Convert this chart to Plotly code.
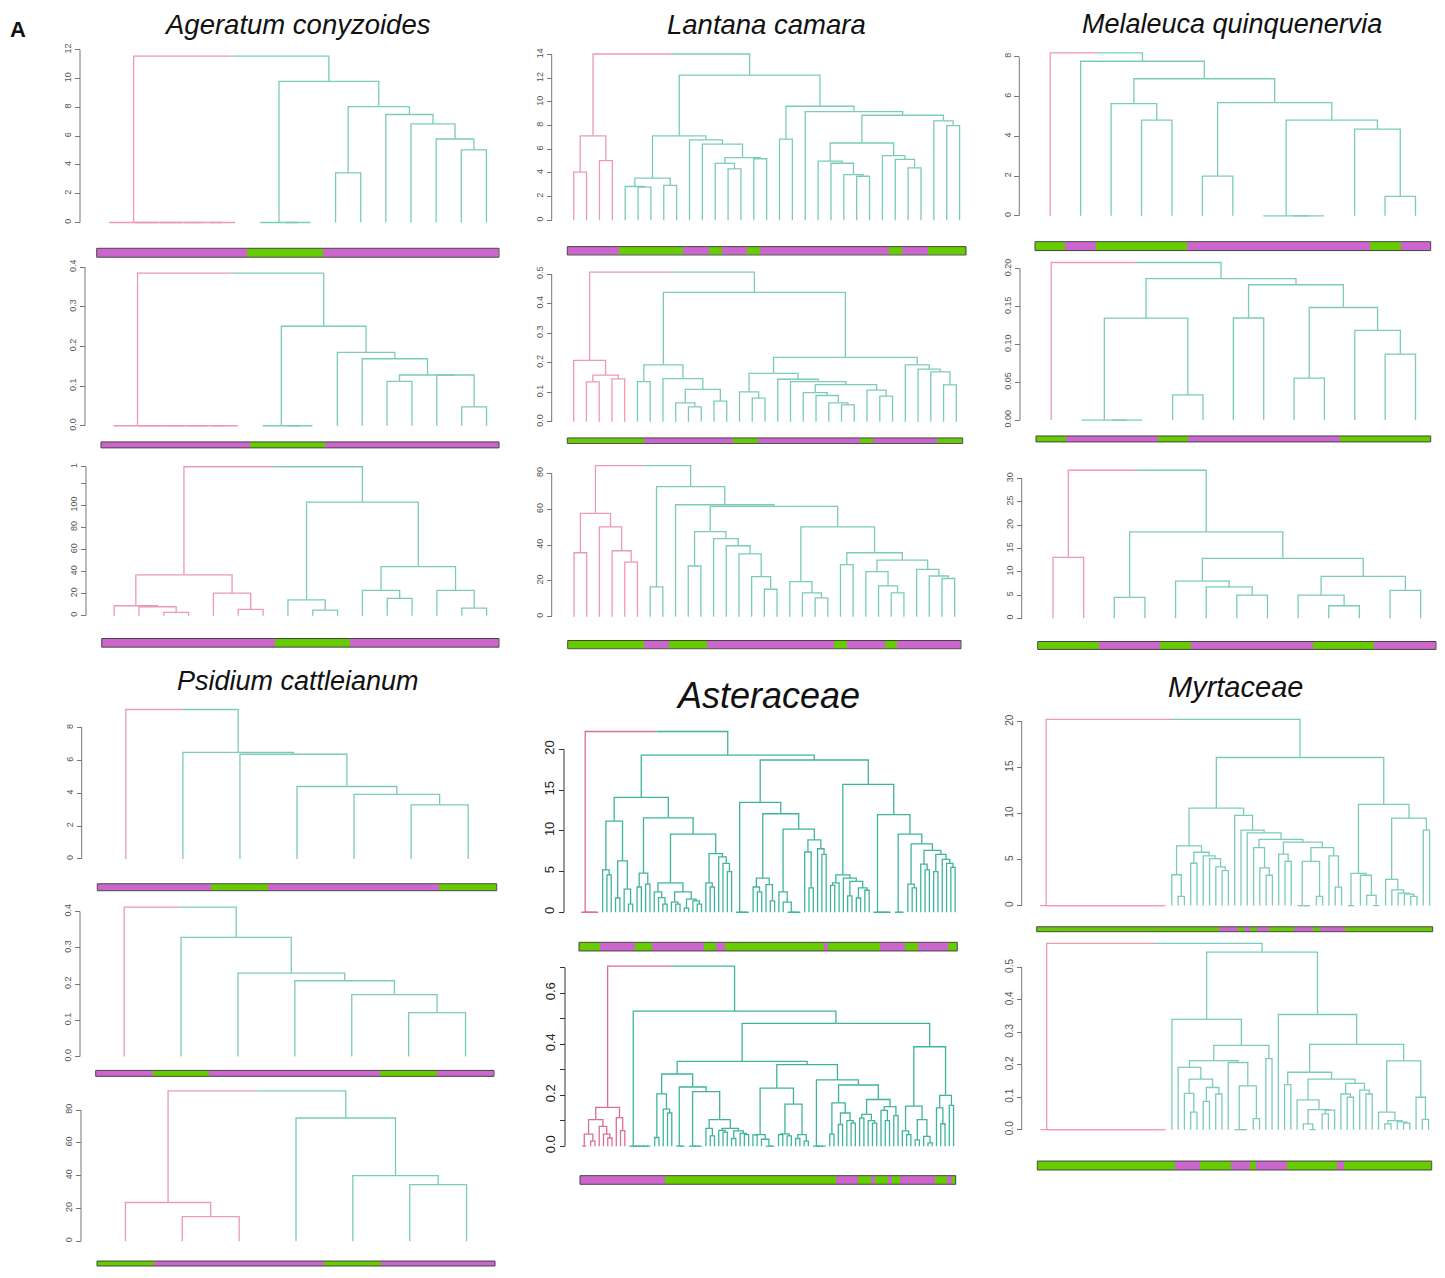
import re
import plotly.graph_objects as go

# page body has an 8px margin: figure is made 16px smaller and every pixel position shifted by 8
PAGE_W, PAGE_H = 1445, 1278
OFF = 8
W, H = PAGE_W - 2 * OFF, PAGE_H - 2 * OFF
FONT = "Liberation Sans, Arial, sans-serif"

# ---------------- DATA: dendrogram merge trees (Newick-like: L=leaf, Zn=n leaves merged at 0) ----------------
AC1 = "(Z6,((L,(L,L)0)0,((L,L)3.45,(L,(L,(L,(L,L)5.05)5.8)6.85)7.5)8.05)9.8)11.55"
AC2 = "(Z6,((L,(L,L)0)0,(L,(L,((L,L)0.112,(L,(L,L)0.0475)0.128)0.128)0.169)0.185)0.251)0.385"
AC3 = "(((L,(L,(L,L)3)8.1)9,(L,(L,L)5.7)20.4)37,((L,(L,L)5.1)14.4,((L,(L,L)15.6)23,(L,(L,L)6.9)23)44.5)103)135"

LC1_P = "((L,L)4.06,(L,L)5.04)7.14"
LC1_G1 = "(((L,(L,L)2.8)2.85,(L,L)2.95)3.56,(L,(L,((L,(L,L)4.34)4.8,(L,L)5.2)5.3)6.44)6.8)7.14"
LC1_GP = "(L,(L,(L,(L,L)3.72)3.86)4.82)4.99"
LC1_GQ = "(L,(L,(L,L)4.43)5.15)5.46"
LC1_G2 = f"((L,L)6.86,(L,(({LC1_GP},{LC1_GQ})6.53,(L,(L,L)8.0)8.4)8.88)9.19)9.64"
LC1 = f"({LC1_P},({LC1_G1},{LC1_G2})12.27)14.06"

LC2_P = "(L,((L,L)0.135,(L,L)0.145)0.158)0.208"
LC2_GA = "((L,L)0.136,(L,((L,(L,L)0.0506)0.064,(L,L)0.07)0.11)0.146)0.193"
LC2_X = "(L,(L,(L,(L,L)0.057)0.064)0.089)0.099"
LC2_Y = "(L,(L,L)0.0865)0.107"
LC2_GB1 = f"((L,(L,L)0.08)0.101,(L,(L,({LC2_X},{LC2_Y})0.126)0.136)0.144)0.164"
LC2_GB2 = "(L,(L,(L,(L,L)0.125)0.169)0.178)0.193"
LC2 = f"({LC2_P},({LC2_GA},({LC2_GB1},{LC2_GB2})0.218)0.438)0.507"

LC3_P = "((L,L)35.7,(L,(L,(L,L)30.5)36.8)50.1)57.7"
LC3_GC = "((L,L)28.3,(L,(L,(L,(L,(L,L)15.3)22.4)35.1)39.6)43.6)47.5"
LC3_D1 = "(L,(L,(L,L)13.3)17.2)25.1"
LC3_D2 = "(L,(L,(L,L)21.3)22.7)26.4"
LC3_GD = f"((L,(L,(L,L)10.5)13.3)19.6,((L,L)29,({LC3_D1},{LC3_D2})31.6)35.7)50.1"
LC3 = f"({LC3_P},((L,L)16.6,(L,({LC3_GC},{LC3_GD})61.6)62.5)72.6)84.3"

MQ1 = "(L,(L,((L,(L,L)4.81)5.64,((L,L)2.0,((L,(L,L)0)0,(L,(L,L)0.98)4.36)4.81)5.69)6.89)7.77)8.19"
MQ2 = "(L,(((L,(L,L)0)0,(L,L)0.0333)0.1348,((L,L)0.135,((L,L)0.0556,(L,(L,L)0.0871)0.1187)0.1489)0.179)0.187)0.2084"
MQ3 = "((L,L)13.1,((L,L)4.5,((L,(L,(L,L)5.0)6.75)8.0,((L,(L,L)2.7)5.0,(L,L)6.0)9.0)12.9)18.55)31.8"

PC1 = "(L,(L,(L,(L,(L,(L,L)3.3)3.94)4.42)6.39)6.5)9.12"
PC2 = "(L,(L,(L,(L,(L,(L,L)0.121)0.171)0.209)0.230)0.329)0.412"
PC3 = "((L,(L,L)15)23.6,(L,(L,(L,L)34.5)40)75.2)91.7"

# Asteraceae (top)
AS1_LL = "((L,(L,L)4.6)5.2,((L,L)1.75,(L,(L,L)1.0)2.85)6.3)11.2"
AS1_LRL = "((L,L)3.1,(L,L)3.45)4.8"
AS1_LRRL = "((L,(L,(L,L)1.0)1.8)2.5,((L,(L,L)1.0)1.25,((L,L)0.5,(L,(L,L)1.0)1.4)1.6)2.5)3.6"
AS1_LRRR = "((L,(L,L)3.1)3.6,(L,(L,(L,L)5.0)6.0)6.8)7.2"
AS1_LEFT = f"({AS1_LL},({AS1_LRL},({AS1_LRRL},{AS1_LRRR})9.6)11.6)14.1"
AS1_RLRL = "((L,(L,L)2.5)3.1,(L,(L,L)1.4)3.4)4.2"
AS1_RLRRL = "(L,(L,Z4)1.25)2.5"
AS1_RLRRR = "((L,(L,L)3.0)7.4,(L,(L,L)7.1)7.8)8.9"
AS1_RL = f"(Z4,({AS1_RLRL},({AS1_RLRRL},{AS1_RLRRR})10.2)12.1)13.5"
AS1_RRL = "(((L,L)3.3,L)3.6,(L,((L,L)2.0,((L,L)1.75,(L,L)2.7)3.0)3.8)4.2)4.6"
AS1_RRRR = "(Z3,((L,(L,L)3.0)3.45,((L,(L,L)5.2)5.9,((L,L)5.0,(L,(L,(L,L)5.5)6.0)6.5)7.1)7.6)8.4)9.6"
AS1_RR = f"({AS1_RRL},(Z5,{AS1_RRRR})12.0)15.7"
AS1 = f"(Z5,({AS1_LEFT},({AS1_RL},{AS1_RR})18.7)19.3)22.2"

# Asteraceae (bottom)
AS2_PINK = "((((L,L)0,(L,L)0.02)0.047,(L,(L,(L,L)0.032)0.047)0.078)0.104,(L,(L,L)0.061)0.112)0.152"
AS2_A1 = "((L,L)0.034,(L,(L,L)0.13)0.145)0.205"
AS2_A2C = "((L,(L,L)0.04)0.07,((L,(L,L)0.055)0.062,((L,L)0.03,(L,(L,L)0.045)0.05)0.06)0.07)0.104"
AS2_A = f"({AS2_A1},(Z3,(Z4,{AS2_A2C})0.214)0.232)0.283"
AS2_B1A = "((L,L)0.044,(L,(L,(L,L)0)0)0.027)0.045"
AS2_B1B = "(((L,L)0.045,(L,L)0.04)0.048,((L,L)0.03,(L,L)0.02)0.045)0.165"
AS2_B2B1 = "((L,L)0.047,((L,L)0.085,(L,(L,L)0.09)0.1)0.13)0.17"
AS2_B2B2 = "(((L,L)0.11,(L,(L,L)0.09)0.1)0.125,((L,(L,L)0.1)0.14,(L,L)0.12)0.155)0.183"
AS2_B = f"(({AS2_B1A},{AS2_B1B})0.228,(Z4,({AS2_B2B1},{AS2_B2B2})0.24)0.26)0.32"
AS2_GRRA = "((L,(L,L)0.045)0.06,((L,L)0.025,(L,(L,L)0.013)0.038)0.104)0.157"
AS2_GRRB = "((L,(L,L)0.088)0.15,(L,L)0.16)0.199"
AS2 = f"({AS2_PINK},(Z6,(({AS2_A},{AS2_B})0.333,({AS2_GRRA},{AS2_GRRB})0.39)0.482)0.53)0.706"

# Myrtaceae (top)
MY1_A = "((L,(L,L)1.0)3.35,((L,L)4.6,(L,(L,(L,(L,L)3.8)4.2)5.1)5.4)5.8)6.5"
MY1_B1 = "(L,(L,(L,L)3.3)4.1)6.3"
MY1_B2 = "((L,(L,L)4.8)5.6,(((L,(L,L)0)0,(L,L)1.0)4.8,(L,(L,L)2.0)5.4)6.3)6.9"
MY1_B = f"(L,(L,(L,({MY1_B1},{MY1_B2})7.2)7.9)8.2)9.8"
MY1_R = "(((L,L)0,(L,(L,(L,L)0)1.1)3.3)3.5,((L,(L,(L,(L,(L,L)1.0)1.25)1.35)1.7)2.85,(L,L)8.2)9.5)11.0"
MY1 = f"(Z21,(({MY1_A},{MY1_B})10.6,{MY1_R})16.1)20.25"

# Myrtaceae (bottom)
MY2_LRLL = "(L,((L,(L,L)0.054)0.112,((L,L)0.087,(L,L)0.11)0.13)0.156)0.192"
MY2_LRLR = "(L,((L,(L,L)0)0,(L,L)0.034)0.135)0.207"
MY2_LG = f"(L,(({MY2_LRLL},{MY2_LRLR})0.213,(L,L)0.219)0.26)0.34"
MY2_A = "(L,((L,(L,L)0)0.018,((L,L)0.049,L)0.06)0.062)0.092"
MY2_BM = "((L,(L,L)0.1)0.11,(L,(L,L)0.11)0.122)0.143"
MY2_RRL = f"((L,L)0.139,({MY2_A},{MY2_BM})0.156)0.177"
MY2_RRRL = "(L,((L,L)0.018,(L,(L,L)0.02)0.024)0.028)0.054"
MY2_RRRR = "(L,(L,L)0.032)0.1"
MY2_RG = f"(L,({MY2_RRL},({MY2_RRRL},{MY2_RRRR})0.212)0.263)0.355"
MY2 = f"(Z21,({MY2_LG},{MY2_RG})0.547)0.574"

# ---------------- DATA: group colour bars (run lengths, M=magenta group, G=green group) ----------------
BAR_AC1 = [("M", 6), ("G", 3), ("M", 7)]
BAR_AC2 = [("M", 6), ("G", 3), ("M", 7)]
BAR_AC3 = [("M", 7), ("G", 3), ("M", 6)]
BAR_LC1 = [("M", 4), ("G", 5), ("M", 2), ("G", 1), ("M", 2), ("G", 1), ("M", 10), ("G", 1), ("M", 2), ("G", 3)]
BAR_LC2 = [("G", 6), ("M", 7), ("G", 2), ("M", 8), ("G", 1), ("M", 5), ("G", 2)]
BAR_LC3 = [("G", 6), ("M", 2), ("G", 3), ("M", 10), ("G", 1), ("M", 3), ("G", 1), ("M", 5)]
BAR_MQ1 = [("G", 1), ("M", 1), ("G", 3), ("M", 6), ("G", 1), ("M", 1)]
BAR_MQ2 = [("G", 1), ("M", 3), ("G", 1), ("M", 5), ("G", 3)]
BAR_MQ3 = [("G", 2), ("M", 2), ("G", 1), ("M", 4), ("G", 2), ("M", 2)]
BAR_PC1 = [("M", 2), ("G", 1), ("M", 3), ("G", 1)]
BAR_PC2 = [("M", 1), ("G", 1), ("M", 3), ("G", 1), ("M", 1)]
BAR_PC3 = [("G", 1), ("M", 3), ("G", 1), ("M", 2)]
BAR_AS1 = [("G", 5), ("M", 8), ("G", 4), ("M", 12), ("G", 3), ("M", 2), ("G", 23), ("M", 1),
           ("G", 12), ("M", 6), ("G", 3), ("M", 7), ("G", 2)]
BAR_AS2 = [("M", 20), ("G", 40), ("M", 5), ("G", 3), ("M", 1), ("G", 3), ("M", 1), ("G", 2),
           ("M", 8), ("G", 3), ("M", 1), ("G", 1)]
BAR_MY1 = [("G", 29), ("M", 3), ("G", 1), ("M", 1), ("G", 1), ("M", 2), ("G", 4), ("M", 3),
           ("G", 1), ("M", 4), ("G", 14)]
BAR_MY2 = [("G", 22), ("M", 4), ("G", 5), ("M", 3), ("G", 1), ("M", 5), ("G", 8), ("M", 1), ("G", 14)]

# ---------------- DATA: axis ticks ----------------
TICKS_AC1 = [0, 2, 4, 6, 8, 10, 12]
TICKS_AC2 = [0, 0.1, 0.2, 0.3, 0.4]
TICKS_AC3 = [0, 20, 40, 60, 80, 100, 120, 135]
LABELS_AC3 = ["0", "20", "40", "60", "80", "100", "", "1"]
TICKS_LC1 = [0, 2, 4, 6, 8, 10, 12, 14]
TICKS_LC2 = [0, 0.1, 0.2, 0.3, 0.4, 0.5]
TICKS_LC3 = [0, 20, 40, 60, 80]
TICKS_MQ1 = [0, 2, 4, 6, 8]
TICKS_MQ2 = [0, 0.05, 0.10, 0.15, 0.20]
LABELS_MQ2 = ["0.00", "0.05", "0.10", "0.15", "0.20"]
TICKS_MQ3 = [0, 5, 10, 15, 20, 25, 30]
TICKS_PC1 = [0, 2, 4, 6, 8]
TICKS_PC2 = [0, 0.1, 0.2, 0.3, 0.4]
TICKS_PC3 = [0, 20, 40, 60, 80]
TICKS_AS1 = [0, 5, 10, 15, 20]
TICKS_AS2 = [0, 0.1, 0.2, 0.3, 0.4, 0.5, 0.6, 0.7]
LABELS_AS2 = ["0.0", "", "0.2", "", "0.4", "", "0.6", ""]
TICKS_MY1 = [0, 5, 10, 15, 20]
TICKS_MY2 = [0, 0.1, 0.2, 0.3, 0.4, 0.5]

TITLES = ["Ageratum conyzoides", "Lantana camara", "Melaleuca quinquenervia",
          "Psidium cattleianum", "Asteraceae", "Myrtaceae"]


def fmt1(v):
    return f"{v:.1f}"


# ---------------- layout table (page-pixel geometry and style) ----------------
# tree, bar, ticks, ticklabels, axis_x, y0px, yTpx(top tick), bar_x0, bar_x1, bar_y0, bar_y1, style
PANELS = [
    (AC1, BAR_AC1, TICKS_AC1, None, 80, 219, 45, 96.7, 499, 245, 254, "s"),
    (AC2, BAR_AC2, TICKS_AC2, [fmt1(t) for t in TICKS_AC2], 85, 423.7, 264, 101, 499, 440, 446, "s"),
    (AC3, BAR_AC3, TICKS_AC3, LABELS_AC3, 86, 615, 465, 101.7, 499, 638, 646.7, "s"),
    (LC1, BAR_LC1, TICKS_LC1, None, 551.7, 216.7, 50, 567.3, 966, 243.3, 251.7, "s"),
    (LC2, BAR_LC2, TICKS_LC2, [fmt1(t) for t in TICKS_LC2], 551.7, 419.7, 271, 567.3, 962.7, 436, 441.5, "s"),
    (LC3, BAR_LC3, TICKS_LC3, None, 551.7, 616, 471.7, 567.7, 961, 640, 648.3, "s"),
    (MQ1, BAR_MQ1, TICKS_MQ1, None, 1019.3, 212.3, 52, 1035, 1430.7, 238.3, 247.3, "s"),
    (MQ2, BAR_MQ2, TICKS_MQ2, LABELS_MQ2, 1020, 418, 265.7, 1036, 1430.7, 434, 440, "s"),
    (MQ3, BAR_MQ3, TICKS_MQ3, None, 1021.7, 617.7, 477, 1037.7, 1436, 641, 649, "s"),
    (PC1, BAR_PC1, TICKS_PC1, None, 81.7, 860, 728, 97.3, 496.7, 885, 892, "s"),
    (PC2, BAR_PC2, TICKS_PC2, [fmt1(t) for t in TICKS_PC2], 80, 1059, 913, 95.7, 494, 1073, 1079, "s"),
    (PC3, BAR_PC3, TICKS_PC3, None, 81, 1245, 1113, 97, 495, 1265, 1270, "s"),
    (AS1, BAR_AS1, TICKS_AS1, None, 564, 913.7, 749.7, 579, 957.3, 944, 952.7, "b"),
    (AS2, BAR_AS2, TICKS_AS2, LABELS_AS2, 565, 1149.3, 969.6, 580, 955.7, 1179, 1187.7, "b"),
    (MY1, BAR_MY1, TICKS_MY1, None, 1021.7, 907, 721.7, 1036.7, 1432.7, 928.3, 933.3, "m"),
    (MY2, BAR_MY2, TICKS_MY2, [fmt1(t) for t in TICKS_MY2], 1021.7, 1132.7, 969.3, 1037.3, 1431.7, 1164.3, 1173.3, "m"),
]

STYLES = {
    "s": dict(pink="#EA9AB1", teal="#7BCBBA", fs=9, fc="#555555", lw=1.3, axc="#777777"),
    "m": dict(pink="#EA9AB1", teal="#7BCBBA", fs=10, fc="#555555", lw=1.3, axc="#777777"),
    "b": dict(pink="#DB6F8F", teal="#3FB49C", fs=13, fc="#222222", lw=1.3, axc="#333333"),
}
MAG, GRN = "#CC66CC", "#66CC00"

# (centre x, y, font size, anchor)
TITLE_POS = [(297.5, 3, 27.5, "top"), (766, 3, 27.5, "top"), (1232, 3, 27, "top"),
             (297.5, 681, 27, "middle"), (768, 695, 36, "middle"), (1235, 687, 29, "middle")]


def px(x):
    return (x - OFF) / W


def py(y):
    return 1 - (y - OFF) / H


def parse(s):
    pos = [0]

    def node():
        c = s[pos[0]]
        if c == "(":
            pos[0] += 1
            a = node()
            assert s[pos[0]] == ",", (s, pos[0])
            pos[0] += 1
            b = node()
            assert s[pos[0]] == ")", (s, pos[0])
            pos[0] += 1
            m = re.match(r"[0-9.]+", s[pos[0]:])
            pos[0] += len(m.group())
            return [a, b, float(m.group())]
        if c == "L":
            pos[0] += 1
            return "L"
        if c == "Z":
            m = re.match(r"Z(\d+)", s[pos[0]:])
            pos[0] += len(m.group())
            t = "L"
            for _ in range(int(m.group(1)) - 1):
                t = ["L", t, 0.0]
            return t
        raise ValueError((s, pos[0]))

    t = node()
    assert pos[0] == len(s), (s, pos[0])
    return t


def segments(tree):
    segs = {0: ([], []), 1: ([], [])}
    ctr = [0]

    def rec(t, col):
        if t == "L":
            x = ctr[0]
            ctr[0] += 1
            return x, 0.0
        a, b, h = t
        xa, ha = rec(a, col)
        xb, hb = rec(b, col)
        xm = (xa + xb) / 2
        for xc, hc in ((xa, ha), (xb, hb)):
            segs[col][0].extend([xc, xc, xm, None])
            segs[col][1].extend([hc, h, h, None])
        return xm, h

    a, b, h = tree
    xa, ha = rec(a, 0)
    xb, hb = rec(b, 1)
    xm = (xa + xb) / 2
    segs[0][0].extend([xa, xa, xm, None])
    segs[0][1].extend([ha, h, h, None])
    segs[1][0].extend([xb, xb, xm, None])
    segs[1][1].extend([hb, h, h, None])
    return segs, ctr[0], h


def an(i):
    return "" if i == 1 else str(i)


fig = go.Figure()
layout = {}
shapes = []

for k, (tstr, bar, ticks, labels, axx, y0p, yTp, bx0, bx1, by0, by1, sty) in enumerate(PANELS):
    st = STYLES[sty]
    tree = parse(tstr)
    segs, n, root_h = segments(tree)
    codes = []
    for g, c in bar:
        codes += [0 if g == "M" else 1] * c
    assert len(codes) == n, (k, len(codes), n)

    T = ticks[-1]
    if labels is None:
        labels = [str(t) for t in ticks]
    scale = (y0p - yTp) / T  # px per unit

    def val(p):
        return (y0p - p) / scale

    top_val = max(root_h, T)
    pt = y0p - top_val * scale - 3
    pb = y0p + 3

    i, j = 2 * k + 1, 2 * k + 2
    xi, yi, xj, yj = f"x{an(i)}", f"y{an(i)}", f"x{an(j)}", f"y{an(j)}"

    for col, color in ((0, st["pink"]), (1, st["teal"])):
        fig.add_trace(go.Scatter(x=segs[col][0], y=segs[col][1], mode="lines",
                                 line=dict(color=color, width=st["lw"]),
                                 xaxis=xi, yaxis=yi, hoverinfo="skip", showlegend=False))

    fig.add_trace(go.Heatmap(z=[codes], x=list(range(n)), y=[0], xaxis=xj, yaxis=yj,
                             colorscale=[[0, MAG], [1, GRN]], zmin=0, zmax=1,
                             showscale=False, hoverinfo="skip"))

    layout[f"xaxis{an(i)}"] = dict(domain=[px(bx0), px(bx1)], range=[-0.5, n - 0.5],
                                   visible=False, anchor=yi)
    layout[f"yaxis{an(i)}"] = dict(domain=[py(pb), py(pt)], range=[val(pb), val(pt)],
                                   anchor="free", position=px(axx), side="left",
                                   showline=False, showgrid=False, zeroline=False,
                                   ticks="outside", ticklen=5, tickwidth=1, tickcolor=st["axc"],
                                   tickvals=ticks, ticktext=labels, tickangle=-90,
                                   tickfont=dict(size=st["fs"], color=st["fc"], family=FONT))
    layout[f"xaxis{an(j)}"] = dict(domain=[px(bx0), px(bx1)], range=[-0.5, n - 0.5],
                                   visible=False, anchor=yj)
    layout[f"yaxis{an(j)}"] = dict(domain=[py(by1), py(by0)], range=[-0.5, 0.5],
                                   visible=False, anchor=xj)

    shapes.append(dict(type="line", xref="paper", yref=yi, x0=px(axx), x1=px(axx),
                       y0=ticks[0], y1=ticks[-1], line=dict(color=st["axc"], width=1)))
    shapes.append(dict(type="rect", xref=f"{xj} domain", yref=f"{yj} domain",
                       x0=0, x1=1, y0=0, y1=1, line=dict(color="#444444", width=1),
                       fillcolor="rgba(0,0,0,0)"))

annotations = []
for title, (tx, ty, fs, anc) in zip(TITLES, TITLE_POS):
    annotations.append(dict(text=f"<i>{title}</i>", x=px(tx), y=py(ty), xref="paper", yref="paper",
                            xanchor="center", yanchor=anc, showarrow=False, borderpad=0,
                            font=dict(size=fs, color="#111111", family=FONT)))
annotations.append(dict(text="<b>A</b>", x=px(18), y=py(25), xref="paper", yref="paper",
                        xanchor="center", yanchor="middle", showarrow=False,
                        font=dict(size=22, color="#111111", family=FONT)))

fig.update_layout(width=W, height=H, margin=dict(l=0, r=0, t=0, b=0),
                  paper_bgcolor="white", plot_bgcolor="white", showlegend=False,
                  shapes=shapes, annotations=annotations, **layout)

fig.write_html("out.html")
